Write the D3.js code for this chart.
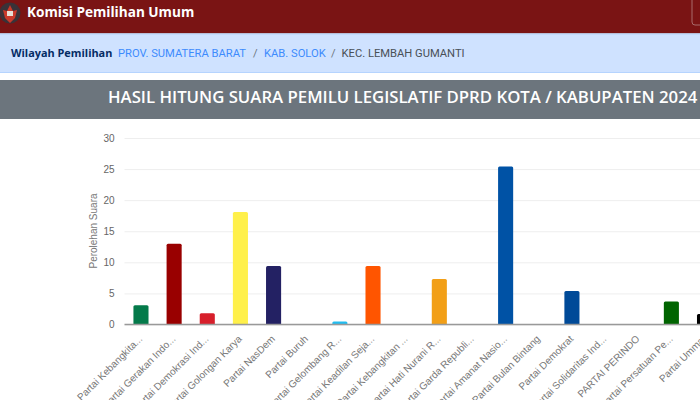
<!DOCTYPE html>
<html><head><meta charset="utf-8">
<script src="https://cdn.jsdelivr.net/npm/d3@7/dist/d3.min.js"></script>
<style>html,body{margin:0;padding:0;background:#fff;overflow:hidden;width:700px;height:400px}svg{display:block}</style>
</head><body><svg id="c" width="700" height="400"></svg>
<script>
const categories=["Partai Kebangkita...","Partai Gerakan Indo...","Partai Demokrasi Ind...","Partai Golongan Karya","Partai NasDem","Partai Buruh","Partai Gelombang R...","Partai Keadilan Seja...","Partai Kebangkitan ...","Partai Hati Nurani R...","Partai Garda Republi...","Partai Amanat Nasio...","Partai Bulan Bintang","Partai Demokrat","Partai Solidaritas Ind...","PARTAI PERINDO","Partai Persatuan Pe...","Partai Ummat"];
const votes=[3.1,13,1.8,18.1,9.4,0,0.5,9.4,0,7.3,0,25.4,0,5.4,0,0,3.7,1.7];
const colors=["#047a4a","#990000","#d71f2b","#fff04a","#232163","#c00","#22bdf0","#ff5500","#888","#f29f17","#888","#0052a5","#888","#004a98","#888","#888","#006400","#000000"];
const yTicks=[0,5,10,15,20,25,30];
const title="HASIL HITUNG SUARA PEMILU LEGISLATIF DPRD KOTA / KABUPATEN 2024";
const crumbs=["PROV. SUMATERA BARAT","KAB. SOLOK","KEC. LEMBAH GUMANTI"];
const svg=d3.select("#c");
const ui="'Open Sans','Noto Sans',sans-serif";
const crumbFont="Roboto,'Noto Sans',sans-serif";
// header
svg.append("rect").attr("width",700).attr("height",33).attr("fill","#7a1414");
svg.append("rect").attr("y",33).attr("width",700).attr("height",1).attr("fill","#b9a8b0");
svg.append("rect").attr("x",692).attr("y",-6).attr("width",14).attr("height",31).attr("rx",3).attr("fill","none").attr("stroke","#a86a6a");
const logo=svg.append("g").attr("transform","translate(10,13)");
logo.append("circle").attr("r",10.5).attr("fill","#3a3238");
logo.append("path").attr("d","M-7,-3 L-3,-2 L0,-8 L3,-2 L7,-3 L5,5 L0,10 L-5,5 Z").attr("fill","#c9392b");
logo.append("rect").attr("x",-3).attr("y",-2).attr("width",6).attr("height",5).attr("fill","#e8dfd6");
svg.append("text").attr("x",27).attr("y",17).attr("font-family",ui).attr("font-weight",700).attr("font-size",13.6).attr("fill","#fff").text("Komisi Pemilihan Umum");
// breadcrumb
svg.append("rect").attr("x",-6).attr("y",34).attr("width",712).attr("height",38.5).attr("rx",4).attr("fill","#cfe2ff").attr("stroke","#b6d4fe");
svg.append("text").attr("x",11).attr("y",56.5).attr("font-family",ui).attr("font-weight",700).attr("font-size",10.9).attr("fill","#052c65").text("Wilayah Pemilihan");
const cx=[118,264,341.5], sepx=[253,331];
crumbs.forEach((c,i)=>svg.append("text").attr("x",cx[i]).attr("y",56.5).attr("font-family",crumbFont).attr("font-size",11.2).attr("fill",i<2?"#3d8bfd":"#495057").text(c));
sepx.forEach(x=>svg.append("text").attr("x",x).attr("y",56.5).attr("font-family",crumbFont).attr("font-size",11.2).attr("fill","#6c757d").text("/"));
// title bar
svg.append("rect").attr("x",-6).attr("y",80).attr("width",712).attr("height",39).attr("rx",5).attr("fill","#6c757d");
svg.append("text").attr("x",108).attr("y",102.5).attr("font-family",ui).attr("font-weight",600).attr("font-size",16.76).attr("fill","#fff").text(title);
// chart
const y=d3.scaleLinear().domain([0,30]).range([324.5,138]);
const x=d3.scaleBand().domain(categories).range([124.4,124.4+33.15*categories.length]).paddingInner(0.545).paddingOuter(0.2725);
const font="'Liberation Sans',Arial,sans-serif";
const yAxis=d3.axisLeft(y).tickValues(yTicks).tickSize(-620).tickPadding(10);
const gy=svg.append("g").attr("transform","translate(124.5,0)").call(yAxis);
gy.select(".domain").remove();
gy.selectAll("line").attr("stroke","#eeeeee");
gy.selectAll("text").attr("font-family",font).attr("font-size",10).attr("fill","#666");
svg.append("text").attr("transform","translate(96.5,231) rotate(-90)").attr("text-anchor","middle").attr("font-family",font).attr("font-size",10).attr("fill","#777").text("Perolehan Suara");
svg.selectAll("path.bar").data(categories).join("path").attr("class","bar")
 .attr("fill",(d,i)=>colors[i])
 .attr("d",(d,i)=>{const v=votes[i];if(!v)return "";const l=x(d),w=x.bandwidth(),t=y(v),b=y(0),r=Math.min(1.5,(b-t)/2);
   return `M${l},${b}V${t+r}Q${l},${t} ${l+r},${t}H${l+w-r}Q${l+w},${t} ${l+w},${t+r}V${b}Z`;});
const xAxis=d3.axisBottom(x).tickSize(0).tickPadding(0);
const gx=svg.append("g").attr("transform","translate(0,324.5)").call(xAxis);
gx.select(".domain").remove();
gx.selectAll("text").attr("font-family",font).attr("font-size",10).attr("fill","#777")
 .attr("text-anchor","end").attr("dy",0).attr("transform","translate(2,15) rotate(-45)");
svg.append("line").attr("x1",124.5).attr("x2",700).attr("y1",324.5).attr("y2",324.5).attr("stroke","#999").attr("stroke-width",1.4);
</script></body></html>
